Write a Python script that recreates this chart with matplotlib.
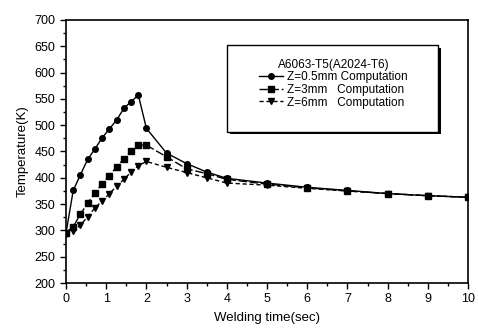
import matplotlib
matplotlib.use("Agg")
import matplotlib.pyplot as plt
from matplotlib.patches import Rectangle
from matplotlib.ticker import MultipleLocator

plt.rcParams['font.family'] = ['Liberation Sans', 'DejaVu Sans']

# welding time (sec)
t = [0, 0.18, 0.36, 0.54, 0.72, 0.9, 1.08, 1.26, 1.44, 1.62, 1.8, 2.0,
     2.5, 3, 3.5, 4, 5, 6, 7, 8, 9, 10]

# temperature (K)
z05 = [295, 376, 406, 435, 455, 476, 493, 510, 532, 545, 557, 494,
       447, 427, 411, 399, 390, 382, 376, 370, 366, 363]
z3 = [296, 307, 331, 352, 371, 389, 404, 421, 436, 450, 462, 462,
      440, 417, 408, 397, 388, 381, 375, 370, 366, 363]
z6 = [293, 299, 310, 326, 343, 356, 370, 384, 397, 411, 423, 431,
      420, 410, 400, 390, 386, 380, 375, 370, 366, 363]

legend_title = "A6063-T5(A2024-T6)"
labels = ["Z=0.5mm Computation", "Z=3mm   Computation", "Z=6mm   Computation"]

fig = plt.figure(figsize=(4.78, 3.28), dpi=100)
ax = fig.add_axes([66 / 478, 1 - 283 / 328, 402 / 478, 263 / 328])

ax.plot(t, z05, color='black', lw=1.0, ls='-', marker='o', ms=4, label=labels[0])
ax.plot(t, z3, color='black', lw=1.0, ls=(0, (6, 2)), marker='s', ms=4, label=labels[1])
ax.plot(t, z6, color='black', lw=1.0, ls=(0, (3, 2)), marker='v', ms=4, label=labels[2])

ax.set_xlim(0, 10)
ax.set_ylim(200, 700)
ax.xaxis.set_major_locator(MultipleLocator(1))
ax.xaxis.set_minor_locator(MultipleLocator(0.5))
ax.yaxis.set_major_locator(MultipleLocator(50))
ax.yaxis.set_minor_locator(MultipleLocator(25))
ax.tick_params(which='both', direction='out', top=False, right=False, labelsize=9, width=1)
ax.tick_params(which='major', length=4)
ax.tick_params(which='minor', length=2)
for s in ax.spines.values():
    s.set_linewidth(1.2)

ax.set_xlabel("Welding time(sec)", fontsize=9.5, labelpad=5)
ax.set_ylabel("Temperature(K)", fontsize=9.5, labelpad=4)

# legend box with shadow
ax.add_patch(Rectangle((0.408, 0.565), 0.525, 0.33, transform=ax.transAxes,
                       facecolor='black', edgecolor='none', zorder=5))
ax.add_patch(Rectangle((0.40, 0.574), 0.525, 0.331, transform=ax.transAxes,
                       facecolor='white', edgecolor='black', lw=1.0, zorder=6))

leg = ax.legend(title=legend_title, loc='upper left', bbox_to_anchor=(0.48, 0.85),
                fontsize=8.5, title_fontsize=8.5, frameon=False,
                handlelength=2.0, handletextpad=0.4, labelspacing=0.05,
                borderpad=0, borderaxespad=0)
leg.set_zorder(7)
leg._legend_box.sep = 0

fig.savefig("out.png", dpi=100)
